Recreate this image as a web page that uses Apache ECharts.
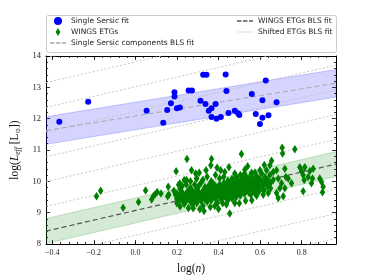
<!DOCTYPE html>
<html><head><meta charset="utf-8">
<script src="https://cdn.jsdelivr.net/npm/echarts@6/dist/echarts.min.js"></script>
<style>html,body{margin:0;padding:0;background:#fff}#c{width:374px;height:280px}</style>
</head><body><div id="c"></div>
<script>
const xMin = -0.43, xMax = 0.965, yMin = 8, yMax = 14;
const xTickLabels = [-0.4, -0.2, 0.0, 0.2, 0.4, 0.6, 0.8];
const yTickLabels = [8, 9, 10, 11, 12, 13, 14];

const singleSersic = [
 [-0.366,11.90],[-0.227,12.54],[0.054,12.25],[0.134,11.87],[0.153,12.28],[0.171,12.49],
 [0.188,12.84],[0.188,12.71],[0.200,12.33],[0.214,12.36],[0.256,12.90],[0.272,12.90],
 [0.326,13.40],[0.342,13.40],[0.434,13.41],[0.627,13.22],[0.438,12.88],[0.560,12.79],
 [0.313,12.57],[0.337,12.47],[0.386,12.47],[0.611,12.59],[0.679,12.52],[0.366,12.33],
 [0.353,12.25],[0.448,12.18],[0.478,12.25],[0.494,12.17],[0.500,12.12],[0.366,12.05],
 [0.390,12.00],[0.411,12.05],[0.579,12.15],[0.611,12.03],[0.640,12.11],[0.599,11.83]
];

const wingsETGs = [
 [-0.187,9.52],[-0.167,9.70],[-0.059,9.16],[0.015,9.34],[0.049,9.71],
 [0.078,9.42],[0.086,9.52],[0.095,9.59],[0.105,9.66],[0.123,9.61],
 [0.158,9.83],[0.161,9.57],[0.155,9.52],[0.196,10.32],
 [0.185,9.70],[0.193,9.57],[0.201,9.42],[0.208,9.89],[0.214,9.93],
 [0.235,10.04],[0.248,10.71],[0.254,9.68],[0.246,9.57],
 [0.510,10.87],[0.366,10.71],[0.363,10.51],[0.270,10.35],[0.307,10.27],
 [0.393,10.43],[0.410,10.35],[0.430,10.30],[0.478,10.25],[0.526,10.37],[0.559,10.27],[0.599,10.35],
 [0.246,10.04],[0.294,10.09],
 [0.708,10.89],[0.706,11.07],[0.767,11.02],[0.655,10.66],[0.647,10.51],[0.631,10.35],[0.663,10.30],
 [0.679,10.35],[0.607,10.25],[0.623,10.14],[0.647,10.20],[0.599,10.04],[0.631,9.99],[0.663,10.04],
 [0.687,10.09],[0.719,10.40],[0.724,10.14],[0.735,10.09],[0.751,9.94],[0.703,9.94],[0.695,9.78],
 [0.719,9.78],[0.679,9.63],[0.711,9.52],[0.687,9.47],[0.791,10.45],[0.799,10.33],[0.815,10.45],
 [0.839,10.33],[0.855,10.40],[0.807,10.20],[0.812,10.04],[0.831,10.14],[0.852,10.09],[0.847,9.94],
 [0.807,9.68],[0.887,10.09],[0.895,9.99],[0.903,9.83],[0.900,9.65],[0.615,9.73],[0.639,9.63],
 [0.278,9.14],[0.310,9.11],[0.382,9.21],[0.454,8.97],[0.438,9.26],[0.478,9.31],[0.583,9.54],
 [0.615,9.57],[0.214,9.42],
 [0.330,9.05],[0.360,9.18],[0.400,9.12],[0.420,9.30],[0.500,9.30],[0.530,9.38],[0.560,9.40],
 [0.290,10.25],[0.340,10.35],[0.450,10.45],[0.540,10.48],[0.620,10.52],
 [0.200,9.45],[0.200,9.30],[0.200,9.60],[0.215,9.55],[0.215,9.20],[0.215,9.75],
 [0.225,9.40],[0.225,9.65],[0.225,9.85],[0.235,9.50],[0.235,9.28],
 [0.245,9.62],[0.245,9.38],[0.245,9.90],[0.255,9.45],[0.255,9.70],[0.255,9.15],
 [0.265,9.55],[0.265,9.80],[0.265,9.35],[0.265,10.00],[0.275,9.48],[0.275,9.68],[0.275,9.25],
 [0.285,9.60],[0.285,9.40],[0.285,9.90],[0.295,9.52],[0.295,9.75],[0.295,9.30],[0.295,10.10],
 [0.305,9.65],[0.305,9.45],[0.305,9.85],[0.315,9.58],[0.315,9.38],[0.315,9.95],
 [0.325,9.70],[0.325,9.50],[0.325,9.22],[0.325,10.05],[0.335,9.62],[0.335,9.82],[0.335,9.42],
 [0.345,9.75],[0.345,9.55],[0.345,9.35],[0.345,10.15],[0.355,9.68],[0.355,9.88],[0.355,9.48],
 [0.365,9.60],[0.365,9.80],[0.365,9.40],[0.365,10.00],[0.375,9.72],[0.375,9.52],[0.375,9.92],
 [0.385,9.65],[0.385,9.85],[0.385,9.45],[0.385,10.20],[0.395,9.78],[0.395,9.58],[0.395,9.32],
 [0.405,9.70],[0.405,9.90],[0.405,9.50],[0.405,10.10],[0.415,9.62],[0.415,9.82],[0.415,9.42],
 [0.425,9.75],[0.425,9.95],[0.425,9.55],[0.425,10.15],[0.435,9.68],[0.435,9.88],[0.435,9.48],
 [0.445,9.80],[0.445,9.60],[0.445,10.02],[0.445,9.40],[0.455,9.72],[0.455,9.92],[0.455,9.52],
 [0.465,9.85],[0.465,9.65],[0.465,10.08],[0.465,9.45],[0.475,9.78],[0.475,9.98],[0.475,9.58],
 [0.485,9.70],[0.485,9.90],[0.485,10.15],[0.485,9.50],[0.495,9.82],[0.495,10.02],[0.495,9.62],
 [0.505,9.75],[0.505,9.95],[0.505,9.55],[0.505,10.20],[0.515,9.88],[0.515,10.08],[0.515,9.68],
 [0.525,9.80],[0.525,10.00],[0.525,9.60],[0.525,10.25],[0.535,9.92],[0.535,9.72],[0.535,10.12],
 [0.545,9.85],[0.545,10.05],[0.545,9.65],[0.555,9.78],[0.555,9.98],[0.555,10.20],[0.555,9.58],
 [0.565,9.90],[0.565,10.10],[0.565,9.70],[0.575,9.82],[0.575,10.02],[0.575,9.62],[0.575,10.28],
 [0.585,9.95],[0.585,9.75],[0.585,10.15],[0.595,9.88],[0.595,10.08],[0.595,9.68],
 [0.610,9.80],[0.610,10.00],[0.620,9.92],[0.620,9.72],[0.635,9.85],[0.635,10.05],[0.650,9.78],[0.650,9.95]
];

const fitX = [-0.43, 0.965];
const sersicFitY = [11.62, 13.13];
const sersicBandHalf = 0.44;
const wingsFitY = [8.41, 10.55];
const wingsBandHalf = 0.40;
const shiftOffsets = [-2.37, -1.58, -0.79, 0.79, 1.58, 2.37, 3.16, 3.95, 4.74, 5.53];

const xMinorTicks = [];
for (let v = -0.4; v <= 0.96; v += 0.04) xMinorTicks.push(+v.toFixed(2));

const shiftedData = [];
shiftOffsets.forEach(o => {
  shiftedData.push([fitX[0], wingsFitY[0] + o], [fitX[1], wingsFitY[1] + o], '-');
});

function band(fitY, half, fill, stroke) {
  return {
    type: 'custom', silent: true, z: 1, data: [0], clip: true,
    renderItem: (p, api) => {
      const pts = [
        api.coord([fitX[0], fitY[0] - half]), api.coord([fitX[1], fitY[1] - half]),
        api.coord([fitX[1], fitY[1] + half]), api.coord([fitX[0], fitY[0] + half])
      ];
      return { type: 'polygon', shape: { points: pts }, style: { fill: fill, stroke: stroke, lineWidth: 0.8 } };
    }
  };
}

const serif = 'Liberation Serif';
const tickStyle = { color: '#000', width: 0.8 };
function xAxisDef(pos, major, labels) {
  return {
    type: 'value', min: xMin, max: xMax, position: pos,
    splitLine: { show: false },
    axisLine: { show: major, onZero: false, lineStyle: { color: '#000', width: 1 } },
    axisTick: { show: true, inside: true, length: major ? 4 : 2, customValues: major ? xTickLabels : xMinorTicks, lineStyle: tickStyle },
    axisLabel: labels ? { show: true, customValues: xTickLabels, formatter: v => (v < 0 ? '\u2212' : '') + Math.abs(v).toFixed(1), fontFamily: serif, fontSize: 8, color: '#222', margin: 5 } : { show: false }
  };
}
function yAxisDef(pos, labels) {
  return {
    type: 'value', min: yMin, max: yMax, interval: 1, position: pos,
    splitLine: { show: false },
    axisLine: { show: true, onZero: false, lineStyle: { color: '#000', width: 1 } },
    axisTick: { show: true, inside: true, length: 4, lineStyle: tickStyle },
    minorTick: { show: true, splitNumber: 5, length: 2, lineStyle: tickStyle },
    axisLabel: labels ? { show: true, fontFamily: serif, fontSize: 8.5, color: '#222', margin: 5, formatter: v => String(v) } : { show: false }
  };
}

const xa0 = xAxisDef('bottom', true, true);
xa0.name = '{r|log(}{i|n}{r|)}';
xa0.nameLocation = 'middle';
xa0.nameGap = 19;
xa0.nameTextStyle = { rich: { r: { fontFamily: serif, fontSize: 11.5, color: '#111' }, i: { fontFamily: serif, fontStyle: 'italic', fontSize: 11.5, color: '#111' } } };
const ya0 = yAxisDef('left', true);
ya0.name = '{r|log(}{i|L}{s|eff}{r| [L}{t|\u2299}{r|])}';
ya0.nameLocation = 'middle';
ya0.nameGap = 18;
ya0.nameRotate = 90;
ya0.nameTextStyle = { rich: {
  r: { fontFamily: serif, fontSize: 11.5, color: '#111', lineHeight: 14 },
  i: { fontFamily: serif, fontStyle: 'italic', fontSize: 11.5, color: '#111', lineHeight: 14 },
  s: { fontFamily: serif, fontStyle: 'italic', fontSize: 7.5, color: '#111', verticalAlign: 'bottom', lineHeight: 14 },
  t: { fontFamily: 'DejaVu Sans', fontSize: 6.5, color: '#111', verticalAlign: 'bottom', lineHeight: 14 }
} };

const legendText = { fontFamily: 'DejaVu Sans', fontSize: 7.5, color: '#222' };
const diamondPath = 'path://M0,-10L6,0L0,10L-6,0Z';
const dashedIcon = 'path://M0,0h4.5v1.3h-4.5zM6,0h4.5v1.3h-4.5zM12,0h4v1.3h-4z';
const dottedIcon = 'path://M0,0h1.4v1h-1.4zM2.9,0h1.4v1h-1.4zM5.8,0h1.4v1h-1.4zM8.7,0h1.4v1h-1.4zM11.6,0h1.4v1h-1.4zM14.5,0h1.5v1h-1.5z';

const option = {
  animation: false,
  backgroundColor: '#fff',
  grid: { left: 46, right: 38, top: 56, bottom: 31, containLabel: false },
  graphic: [{ type: 'rect', left: 46, top: 15, shape: { width: 290, height: 37, r: 2 }, style: { fill: '#fff', stroke: '#cccccc', lineWidth: 1 }, z: 0 }],
  legend: [
    { left: 50, top: 17, orient: 'vertical', padding: 0, itemGap: 3, itemWidth: 16, itemHeight: 8, textStyle: legendText,
      data: [{ name: 'Single Sersic fit', icon: 'circle' }, { name: 'WINGS ETGs', icon: diamondPath }, { name: 'Single Sersic components BLS fit', icon: dashedIcon }] },
    { left: 237, top: 17, orient: 'vertical', padding: 0, itemGap: 3, itemWidth: 16, itemHeight: 8, textStyle: legendText,
      data: [{ name: 'WINGS ETGs BLS fit', icon: dashedIcon }, { name: 'Shifted ETGs BLS fit', icon: dottedIcon }] }
  ],
  xAxis: [xa0, xAxisDef('bottom', false, false), xAxisDef('top', true, false), xAxisDef('top', false, false)],
  yAxis: [ya0, yAxisDef('right', false)],
  series: [
    band(sersicFitY, sersicBandHalf, 'rgba(0,0,255,0.17)', 'rgba(0,0,255,0.25)'),
    band(wingsFitY, wingsBandHalf, 'rgba(0,128,0,0.17)', 'rgba(0,128,0,0.22)'),
    { name: 'Shifted ETGs BLS fit', type: 'line', z: 2, symbol: 'none', connectNulls: false, silent: true,
      lineStyle: { color: '#c0c0c0', width: 0.9, type: [2, 2] }, itemStyle: { color: '#c0c0c0' }, data: shiftedData },
    { name: 'Single Sersic components BLS fit', type: 'line', z: 3, symbol: 'none', silent: true,
      lineStyle: { color: '#a8a8a8', width: 1, type: [5, 3] }, itemStyle: { color: '#a8a8a8' },
      data: [[fitX[0], sersicFitY[0]], [fitX[1], sersicFitY[1]]] },
    { name: 'WINGS ETGs BLS fit', type: 'line', z: 3, symbol: 'none', silent: true,
      lineStyle: { color: '#555555', width: 1.2, type: [5, 3] }, itemStyle: { color: '#555555' },
      data: [[fitX[0], wingsFitY[0]], [fitX[1], wingsFitY[1]]] },
    { name: 'Single Sersic fit', type: 'scatter', z: 5, symbol: 'circle', symbolSize: 6,
      itemStyle: { color: '#0000ff', opacity: 1 }, data: singleSersic },
    { name: 'WINGS ETGs', type: 'scatter', z: 5, symbol: 'diamond', symbolSize: [5.5, 8.5],
      itemStyle: { color: '#008000', opacity: 1 }, data: wingsETGs }
  ]
};
echarts.init(document.getElementById('c'), null, { renderer: 'canvas' }).setOption(option);
</script>
</body></html>
